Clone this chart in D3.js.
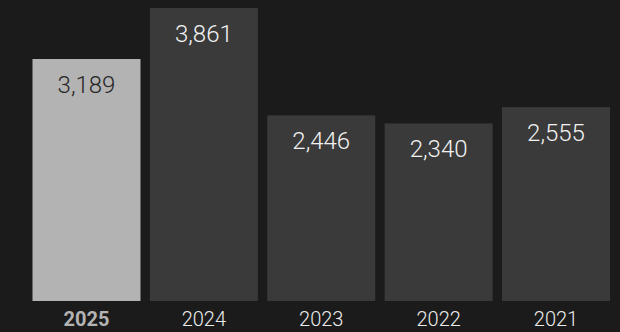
<!DOCTYPE html>
<html><head><meta charset="utf-8">
<script src="https://cdn.jsdelivr.net/npm/d3@7"></script>
<style>html,body{margin:0;padding:0;background:#1b1b1b;}</style>
</head><body>
<svg id="chart" width="620" height="332"></svg>
<script>
const years = ["2025", "2024", "2023", "2022", "2021"];
const values = [3189, 3861, 2446, 2340, 2555];
const highlight = "2025";

const svg = d3.select("#chart");
svg.append("rect").attr("width", 620).attr("height", 332).attr("fill", "#1b1b1b");

const x = d3.scaleBand().domain(years).range([32.5, 610]).paddingInner(0.08).paddingOuter(0);
const y = d3.scaleLinear().domain([0, d3.max(values)]).range([301, 8]);

const data = years.map((yr, i) => ({year: yr, value: values[i]}));

svg.selectAll("rect.bar").data(data).enter().append("rect")
  .attr("class", "bar")
  .attr("x", d => x(d.year))
  .attr("width", x.bandwidth())
  .attr("y", d => y(d.value))
  .attr("height", d => y(0) - y(d.value))
  .attr("fill", d => d.year === highlight ? "#b3b3b3" : "#3a3a3a");

svg.selectAll("text.val").data(data).enter().append("text")
  .attr("class", "val")
  .attr("x", d => x(d.year) + x.bandwidth() / 2)
  .attr("y", d => y(d.value) + 34)
  .attr("text-anchor", "middle")
  .attr("font-family", "Roboto, sans-serif")
  .attr("font-weight", 300)
  .attr("font-size", 24)
  .attr("fill", d => d.year === highlight ? "#262626" : "#f2f2f2")
  .text(d => d3.format(",")(d.value));

const xAxis = svg.append("g").attr("transform", "translate(0,301)")
  .call(d3.axisBottom(x).tickSize(0).tickPadding(0));
xAxis.select(".domain").remove();
xAxis.selectAll("text")
  .attr("y", 0)
  .attr("dy", 24.5)
  .attr("font-family", "Roboto, sans-serif")
  .attr("font-size", 20)
  .attr("font-weight", d => d === highlight ? 700 : 300)
  .attr("fill", d => d === highlight ? "#b3b3b3" : "#ececec");
</script>
</body></html>
